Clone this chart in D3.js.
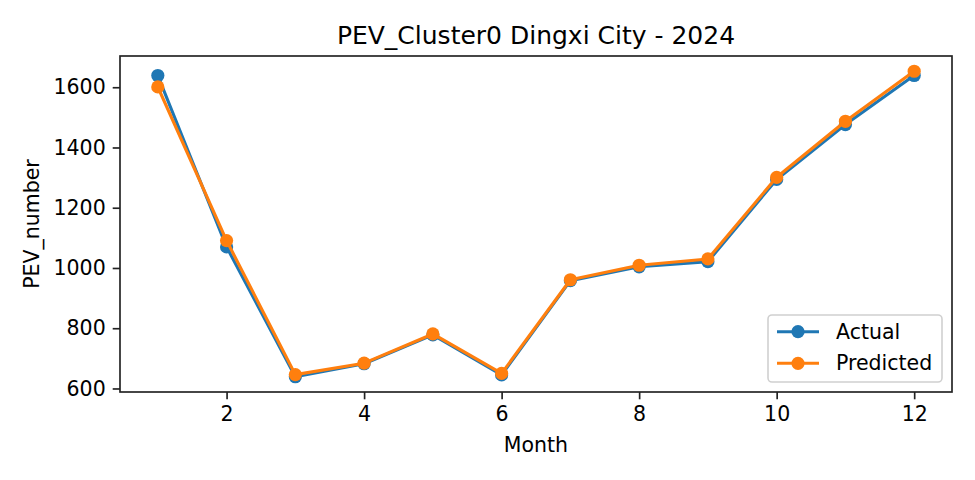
<!DOCTYPE html>
<html>
<head>
<meta charset="utf-8">
<script src="https://cdn.jsdelivr.net/npm/d3@7"></script>
<style>
  html, body { margin: 0; padding: 0; background: #fff; }
  svg { display: block; font-family: "DejaVu Sans", sans-serif; }
</style>
</head>
<body>
<svg id="chart" width="975" height="480"></svg>
<script>
const months = [1, 2, 3, 4, 5, 6, 7, 8, 9, 10, 11, 12];
const actual = [1639, 1070, 639, 682, 778, 645, 958, 1004, 1021, 1294, 1476, 1639];
const predicted = [1601, 1091, 646, 684, 781, 650, 961, 1009, 1030, 1301, 1487, 1653];
const xTicks = [2, 4, 6, 8, 10, 12];
const yTicks = [600, 800, 1000, 1200, 1400, 1600];
const seriesNames = ["Actual", "Predicted"];
const seriesColors = ["#1f77b4", "#ff7f0e"];
const titleText = "PEV_Cluster0 Dingxi City - 2024";
const xLabel = "Month";
const yLabel = "PEV_number";

const svg = d3.select("#chart");
const mLeft = 120, mRight = 952, mTop = 56, mBottom = 392;

const allVals = actual.concat(predicted);
const yMin = d3.min(allVals), yMax = d3.max(allVals);
const yPad = (yMax - yMin) * 0.05;
const xPad = (12 - 1) * 0.05;

const x = d3.scaleLinear().domain([1 - xPad, 12 + xPad]).range([mLeft, mRight]);
const y = d3.scaleLinear().domain([yMin - yPad, yMax + yPad]).range([mBottom, mTop]);

const fs = 20.5;
const mr = 6.6;

// axes
const xAxis = svg.append("g")
  .attr("transform", `translate(0,${mBottom})`)
  .call(d3.axisBottom(x).tickValues(xTicks).tickSize(7.3).tickPadding(7).tickFormat(d3.format("d")));
const yAxis = svg.append("g")
  .attr("transform", `translate(${mLeft},0)`)
  .call(d3.axisLeft(y).tickValues(yTicks).tickSize(7.3).tickPadding(7).tickFormat(d3.format("d")));
[xAxis, yAxis].forEach(g => {
  g.select(".domain").remove();
  g.selectAll(".tick line").attr("stroke", "#222").attr("stroke-width", 1.67);
  g.selectAll(".tick text").attr("font-size", fs).attr("fill", "#000")
    .attr("font-family", "DejaVu Sans, sans-serif");
});

// series
const line = d3.line().x((d, i) => x(months[i])).y(d => y(d));
[actual, predicted].forEach((data, k) => {
  const g = svg.append("g");
  g.append("path").datum(data)
    .attr("d", line)
    .attr("fill", "none")
    .attr("stroke", seriesColors[k])
    .attr("stroke-width", 3.1)
    .attr("stroke-linejoin", "round")
    .attr("stroke-linecap", "square");
  g.selectAll("circle").data(data).enter().append("circle")
    .attr("cx", (d, i) => x(months[i]))
    .attr("cy", d => y(d))
    .attr("r", mr)
    .attr("fill", seriesColors[k]);
});

// frame
svg.append("rect")
  .attr("x", mLeft).attr("y", mTop)
  .attr("width", mRight - mLeft).attr("height", mBottom - mTop)
  .attr("fill", "none").attr("stroke", "#222").attr("stroke-width", 1.67);

// title and labels
svg.append("text").attr("x", (mLeft + mRight) / 2).attr("y", 44)
  .attr("text-anchor", "middle").attr("font-size", 25).attr("fill", "#000").text(titleText);
svg.append("text").attr("x", (mLeft + mRight) / 2).attr("y", 452)
  .attr("text-anchor", "middle").attr("font-size", fs).attr("fill", "#000").text(xLabel);
svg.append("text")
  .attr("transform", `translate(39,${(mTop + mBottom) / 2}) rotate(-90)`)
  .attr("text-anchor", "middle").attr("font-size", fs).attr("fill", "#000").text(yLabel);

// legend
const lg = svg.append("g");
lg.append("rect")
  .attr("x", 768).attr("y", 315).attr("width", 174).attr("height", 67)
  .attr("rx", 4).attr("fill", "#fff").attr("fill-opacity", 0.8)
  .attr("stroke", "#d0d0d0").attr("stroke-width", 1.6);
seriesNames.forEach((name, k) => {
  const cy = 331.7 + k * 31.6;
  lg.append("line").attr("x1", 777).attr("x2", 819).attr("y1", cy).attr("y2", cy)
    .attr("stroke", seriesColors[k]).attr("stroke-width", 3.1);
  lg.append("circle").attr("cx", 798).attr("cy", cy).attr("r", mr).attr("fill", seriesColors[k]);
  lg.append("text").attr("x", 836).attr("y", cy + 7).attr("font-size", fs)
    .attr("fill", "#000").text(name);
});
</script>
</body>
</html>
